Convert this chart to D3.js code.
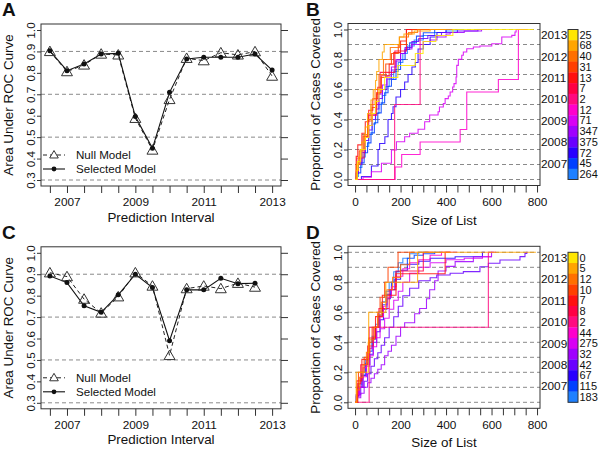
<!DOCTYPE html>
<html><head><meta charset="utf-8">
<script src="https://cdn.jsdelivr.net/npm/d3@7"></script>
<style>
body{margin:0;background:#fff}
svg{display:block}
text{font-family:"Liberation Sans",Arial,Helvetica,sans-serif;fill:#111}
</style>
</head><body><script>
// ---------------- DATA ----------------
const intervalsA = [2006.5,2007,2007.5,2008,2008.5,2009,2009.5,2010,2010.5,2011,2011.5,2012,2012.5,2013];
const nullModelA = [0.900,0.806,0.837,0.888,0.884,0.588,0.440,0.676,0.868,0.857,0.894,0.884,0.899,0.785];
const selectedModelA = [0.903,0.810,0.841,0.888,0.891,0.596,0.448,0.709,0.865,0.873,0.873,0.873,0.888,0.813];

const intervalsC = [2006.5,2007,2007.5,2008,2008.5,2009,2009.5,2010,2010.5,2011,2011.5,2012,2012.5];
const nullModelC = [0.907,0.889,0.784,0.719,0.795,0.907,0.845,0.521,0.833,0.845,0.833,0.858,0.840];
const selectedModelC = [0.892,0.861,0.753,0.722,0.804,0.900,0.838,0.590,0.827,0.827,0.881,0.856,0.858];

const intervalTicks = [2006.5,2007,2007.5,2008,2008.5,2009,2009.5,2010,2010.5,2011,2011.5,2012,2012.5,2013];
const intervalLabels = [2007,2009,2011,2013];
const aucTicks = [0.3,0.4,0.5,0.6,0.7,0.8,0.9,1.0];
const aucGrid = [0.3,0.5,0.7,0.9];
const legendLabels = ["Null Model","Selected Model"];

const sizeTicks = [0,50,100,150,200,250,300,350,400,450,500,550,600,650,700,750,800];
const sizeLabels = [0,200,400,600,800];
const propTicks = [0,0.2,0.4,0.6,0.8,1.0];
const propGrid = [0,0.1,0.2,0.3,0.4,0.5,0.6,0.7,0.8,0.9,1.0];

const colorYears = [2013,2012.5,2012,2011.5,2011,2010.5,2010,2009.5,2009,2008.5,2008,2007.5,2007,2006.5];
const yearLabels = [2013,2012,2011,2010,2009,2008,2007];
const yearColors = ["#ffe600","#ffa500","#ff7000","#ff4000","#ff1010","#ff0044","#ff0a80","#ff00cc","#d800f4","#a000ff","#6a00ff","#2800ff","#0040ff","#1e80ff"];
const countsB = [25,68,40,31,13,7,2,12,71,347,375,72,45,264];
const countsD = [0,5,12,10,7,8,2,44,275,32,42,67,115,183];

// coverage curves panel B: [list size, proportion covered] step corners
const b2013 = [[0,0],[10,0.12],[25,0.2],[45,0.28],[60,0.36],[75,0.44],[90,0.52],[105,0.6],[130,0.68],[188,0.76],[265,0.84],[299,0.92],[355,0.96],[430,1],[785,1]];
const b2012h = [[0,0],[5,0.06],[15,0.15],[30,0.25],[45,0.35],[55,0.44],[70,0.53],[80,0.6],[90,0.66],[95,0.72],[105,0.8],[120,0.85],[128,0.9],[195,0.95],[215,0.97],[260,0.99],[330,1],[440,1]];
const b2012 = [[0,0],[8,0.1],[22,0.2],[40,0.3],[55,0.4],[70,0.5],[88,0.6],[105,0.7],[125,0.8],[155,0.88],[195,0.95],[235,0.98],[275,1],[400,1]];
const b2011h = [[0,0],[5,0.1],[18,0.19],[35,0.29],[55,0.39],[75,0.48],[95,0.58],[115,0.68],[135,0.77],[160,0.84],[190,0.9],[226,0.97],[250,1],[380,1]];
const b2011 = [[0,0],[5,0.154],[12,0.231],[30,0.308],[45,0.385],[60,0.462],[78,0.538],[100,0.615],[115,0.692],[150,0.769],[170,0.846],[200,0.923],[226,1],[350,1]];
const b2010h = [[0,0],[8,0.143],[40,0.286],[60,0.429],[95,0.571],[110,0.714],[175,0.857],[226,1],[330,1]];
const b2010 = [[0,0],[174,0.5],[286,1],[400,1]];
const b2009h = [[0,0],[176,0.083],[205,0.167],[286,0.25],[462,0.333],[491,0.583],[630,0.667],[718,1],[760,1]];
const b2009 = [[0,0],[35,0.015],[72,0.052],[116,0.108],[160,0.197],[182,0.252],[218,0.285],[240,0.308],[277,0.335],[306,0.385],[328,0.43],[365,0.452],[371,0.483],[388,0.506],[396,0.539],[410,0.557],[418,0.583],[429,0.617],[435,0.639],[444,0.683],[447,0.761],[454,0.801],[469,0.828],[476,0.85],[491,0.872],[520,0.883],[549,0.89],[601,0.905],[645,0.95],[689,0.961],[703,0.983],[708,1],[740,1]];
const b2008h = [[0,0],[5,0.05],[15,0.12],[30,0.2],[45,0.28],[60,0.36],[75,0.43],[90,0.5],[105,0.57],[120,0.63],[140,0.69],[160,0.75],[180,0.8],[200,0.84],[220,0.87],[250,0.9],[300,0.92],[330,0.93],[360,0.95],[400,0.97],[418,0.98],[480,0.99],[556,1],[600,1]];
const b2008 = [[0,0],[5,0.04],[15,0.1],[30,0.18],[45,0.26],[60,0.33],[75,0.4],[90,0.47],[105,0.54],[120,0.6],[140,0.67],[160,0.73],[180,0.79],[200,0.84],[220,0.88],[250,0.92],[280,0.94],[320,0.96],[380,0.98],[450,0.99],[540,1],[580,1]];
const b2007h = [[0,0],[28,0.02],[72,0.09],[101,0.2],[108,0.24],[131,0.285],[145,0.4],[160,0.44],[167,0.485],[180,0.55],[200,0.6],[218,0.65],[233,0.7],[250,0.75],[265,0.78],[277,0.87],[300,0.9],[330,0.95],[360,0.98],[400,1],[450,1]];
const b2007 = [[0,0],[10,0.044],[25,0.111],[40,0.178],[55,0.244],[70,0.311],[85,0.378],[100,0.444],[115,0.511],[130,0.578],[145,0.622],[160,0.667],[180,0.733],[200,0.8],[220,0.867],[240,0.911],[270,0.956],[300,0.978],[350,1],[420,1]];
const b2006h = [[0,0],[5,0.02],[15,0.08],[30,0.15],[45,0.22],[60,0.3],[75,0.37],[90,0.44],[105,0.5],[120,0.56],[135,0.62],[150,0.67],[170,0.72],[190,0.78],[210,0.84],[230,0.89],[260,0.93],[300,0.96],[350,0.98],[400,0.99],[450,1],[480,1]];

// coverage curves panel D
const d2013 = [];
const d2012h = [[0,0],[5,0.2],[58,0.4],[60,0.6],[135,0.8],[275,1],[795,1]];
const d2012 = [[0,0],[8,0.083],[20,0.167],[35,0.25],[50,0.333],[65,0.417],[85,0.5],[100,0.583],[115,0.667],[140,0.75],[165,0.833],[200,0.917],[240,1],[420,1]];
const d2011h = [[0,0],[10,0.1],[15,0.2],[40,0.3],[60,0.4],[75,0.5],[100,0.6],[110,0.7],[130,0.8],[145,0.9],[189,1],[260,1]];
const d2011 = [[0,0],[8,0.143],[30,0.286],[60,0.429],[90,0.571],[120,0.714],[180,0.857],[396,1],[420,1]];
const d2010h = [[0,0],[12,0.125],[25,0.25],[55,0.375],[80,0.5],[105,0.625],[150,0.75],[180,0.875],[300,1],[340,1]];
const d2010 = [[0,0],[62,0.5],[586,1],[620,1]];
const d2009h = [[0,0],[5,0.05],[15,0.1],[25,0.16],[35,0.23],[50,0.3],[65,0.36],[80,0.43],[95,0.5],[110,0.57],[125,0.64],[140,0.7],[160,0.77],[180,0.84],[210,0.89],[240,0.93],[280,0.95],[330,0.98],[380,1],[450,1]];
const d2009 = [[0,0],[8,0.04],[20,0.1],[35,0.17],[50,0.24],[65,0.31],[80,0.37],[95,0.43],[110,0.49],[130,0.56],[150,0.62],[170,0.68],[190,0.74],[210,0.8],[240,0.86],[280,0.9],[330,0.93],[400,0.95],[480,0.96],[560,0.97],[601,0.97]];
const d2008h = [[0,0],[10,0.03],[25,0.06],[40,0.1],[55,0.13],[70,0.16],[85,0.19],[100,0.22],[115,0.25],[130,0.31],[145,0.34],[160,0.38],[180,0.44],[200,0.5],[218,0.53],[262,0.59],[284,0.625],[314,0.69],[328,0.75],[350,0.81],[365,0.875],[400,0.906],[440,0.938],[520,0.97],[600,1],[610,1]];
const d2008 = [[0,0],[10,0.05],[25,0.1],[40,0.14],[55,0.19],[70,0.24],[85,0.29],[100,0.33],[115,0.38],[130,0.43],[150,0.5],[170,0.57],[190,0.64],[210,0.71],[240,0.76],[280,0.81],[330,0.83],[359,0.849],[418,0.86],[476,0.871],[549,0.904],[586,0.927],[637,0.949],[725,0.971],[747,0.993],[755,1],[760,1]];
const d2007h = [[0,0],[8,0.05],[20,0.1],[35,0.18],[50,0.25],[65,0.32],[80,0.4],[95,0.47],[110,0.55],[125,0.62],[140,0.69],[155,0.75],[175,0.82],[200,0.88],[230,0.92],[280,0.94],[330,0.96],[440,0.97],[549,0.97],[560,1],[570,1]];
const d2007 = [[0,0],[5,0.04],[15,0.1],[30,0.18],[45,0.26],[60,0.34],[75,0.42],[90,0.5],[105,0.58],[120,0.65],[140,0.72],[160,0.8],[180,0.87],[200,0.92],[230,0.96],[260,0.98],[300,0.99],[350,1],[380,1]];
const d2006h = [[0,0],[5,0.05],[15,0.12],[30,0.2],[45,0.28],[60,0.36],[75,0.44],[90,0.52],[105,0.6],[120,0.67],[135,0.74],[150,0.8],[170,0.87],[190,0.93],[210,0.96],[240,0.99],[280,1],[320,1]];

// same order as colorYears
const curvesB = [b2013,b2012h,b2012,b2011h,b2011,b2010h,b2010,b2009h,b2009,b2008h,b2008,b2007h,b2007,b2006h];
const curvesD = [d2013,d2012h,d2012,d2011h,d2011,d2010h,d2010,d2009h,d2009,d2008h,d2008,d2007h,d2007,d2006h];

// ---------------- DRAWING ----------------
const W = 600, H = 450, rowOffset = 222.8;
const svg = d3.select("body").append("svg").attr("width", W).attr("height", H);
const axisColor = "#333", gridColor = "#8a8a8a";
const tickFont = 11.8, titleFont = 13.4;

function styleAxis(g){
  g.select(".domain").remove();
  g.selectAll(".tick line").attr("stroke", axisColor);
  g.selectAll(".tick text").attr("font-size", tickFont).attr("fill","#111")
   .attr("font-family",'"Liberation Sans",Arial,sans-serif');
  g.attr("font-size", null).attr("font-family", null);
}
function rotateLeftLabels(g, offset){
  g.selectAll(".tick text").attr("x", null).attr("dy", null)
   .attr("text-anchor","middle").attr("transform", `translate(${-offset},0) rotate(-90)`);
}

function panelLabel(txt, x, y){
  svg.append("text").attr("x",x).attr("y",y).attr("font-size",19).attr("font-weight","bold").text(txt);
}

function aucPanel(oy, intervals, nullVals, selVals, letter){
  const g = svg.append("g").attr("transform",`translate(0,${oy})`);
  const x = d3.scaleLinear().domain([2006.24, 2013.26]).range([41, 281]);
  const y = d3.scaleLinear().domain([0.272, 1.028]).range([186, 24]);
  g.append("g").selectAll("line").data(aucGrid).join("line")
    .attr("x1",x.range()[0]).attr("x2",x.range()[1])
    .attr("y1",d=>y(d)).attr("y2",d=>y(d))
    .attr("stroke",gridColor).attr("stroke-dasharray","4,3").attr("stroke-width",1);
  g.append("g").attr("transform",`translate(0,${y.range()[0]})`)
    .call(d3.axisBottom(x).tickValues(intervalTicks).tickSize(7).tickPadding(5)
      .tickFormat(d => intervalLabels.includes(d) ? d3.format("d")(d) : ""))
    .call(styleAxis);
  g.append("g").attr("transform",`translate(${x.range()[0]},0)`)
    .call(d3.axisLeft(y).tickValues(aucTicks).tickSize(4).tickFormat(d3.format(".1f")))
    .call(styleAxis).call(gg => rotateLeftLabels(gg, 6));
  g.append("g").attr("transform",`translate(${x.range()[1]},0)`)
    .call(d3.axisRight(y).tickValues(aucTicks).tickSize(7).tickFormat(""))
    .call(styleAxis);
  g.append("rect").attr("x",41).attr("y",24).attr("width",240).attr("height",162)
    .attr("fill","none").attr("stroke",axisColor).attr("stroke-width",1);
  const pts = (vals) => intervals.map((t,i)=>[t, vals[i]]);
  const line = d3.line().x(d=>x(d[0])).y(d=>y(d[1]));
  g.append("path").attr("d", line(pts(nullVals))).attr("fill","none")
    .attr("stroke","#222").attr("stroke-dasharray","4,3").attr("stroke-width",1);
  g.append("path").attr("d", line(pts(selVals))).attr("fill","none")
    .attr("stroke","#111").attr("stroke-width",1.1);
  const tri = d3.symbol().type(d3.symbolTriangle).size(52);
  g.append("g").selectAll("path").data(pts(nullVals)).join("path")
    .attr("d", tri).attr("transform", d=>`translate(${x(d[0])},${y(d[1])+1})`)
    .attr("fill","none").attr("stroke","#333").attr("stroke-width",1);
  g.append("g").selectAll("circle").data(pts(selVals)).join("circle")
    .attr("cx",d=>x(d[0])).attr("cy",d=>y(d[1])).attr("r",2.5).attr("fill","#111");
  const leg = g.append("g");
  const rows = [155, 169];
  leg.append("line").attr("x1",43).attr("x2",65).attr("y1",rows[0]).attr("y2",rows[0])
    .attr("stroke","#222").attr("stroke-dasharray","4,3");
  leg.append("path").attr("d", d3.symbol().type(d3.symbolTriangle).size(32)())
    .attr("transform",`translate(54,${rows[0]+0.5})`).attr("fill","#fff").attr("stroke","#333");
  leg.append("line").attr("x1",43).attr("x2",65).attr("y1",rows[1]).attr("y2",rows[1])
    .attr("stroke","#111").attr("stroke-width",1.1);
  leg.append("circle").attr("cx",54).attr("cy",rows[1]).attr("r",2.4).attr("fill","#111");
  leg.selectAll("text").data(legendLabels).join("text")
    .attr("x",76).attr("y",(d,i)=>rows[i]).attr("dy","0.36em").attr("font-size",11.6).text(d=>d);
  g.append("text").attr("x",(41+281)/2).attr("y",221.5).attr("text-anchor","middle")
    .attr("font-size",titleFont).text("Prediction Interval");
  g.append("text").attr("transform",`translate(12.5,${(24+186)/2}) rotate(-90)`).attr("text-anchor","middle")
    .attr("font-size",titleFont).text("Area Under ROC Curve");
  panelLabel(letter, 2, oy + 16);
}

function coveragePanel(oy, curves, counts, letter){
  const g = svg.append("g").attr("transform",`translate(0,${oy})`);
  const x = d3.scaleLinear().domain([-31, 813]).range([348, 540]);
  const y = d3.scaleLinear().domain([-0.04, 1.04]).range([185.5, 23.5]);
  g.append("g").selectAll("line").data(propGrid).join("line")
    .attr("x1",348).attr("x2",540).attr("y1",d=>y(d)).attr("y2",d=>y(d))
    .attr("stroke",gridColor).attr("stroke-dasharray","4,3");
  g.append("g").attr("transform",`translate(0,185.5)`)
    .call(d3.axisBottom(x).tickValues(sizeTicks).tickSize(7).tickPadding(5)
      .tickFormat(d => sizeLabels.includes(d) ? d : ""))
    .call(styleAxis);
  g.append("g").attr("transform",`translate(348,0)`)
    .call(d3.axisLeft(y).tickValues(propTicks).tickSize(4).tickFormat(d3.format(".1f")))
    .call(styleAxis).call(gg => rotateLeftLabels(gg, 6));
  const line = d3.line().x(d=>x(d[0])).y(d=>y(d[1])).curve(d3.curveStepAfter);
  const order = d3.range(curves.length).reverse();
  g.append("g").selectAll("path").data(order.filter(i => curves[i].length)).join("path")
    .attr("d", i => line(curves[i])).attr("fill","none")
    .attr("stroke", i => yearColors[i]).attr("stroke-width",1.1).attr("stroke-opacity",0.85);
  g.append("rect").attr("x",348).attr("y",23.5).attr("width",192).attr("height",162)
    .attr("fill","none").attr("stroke",axisColor);
  const band = d3.scaleBand().domain(colorYears).range([y(1), y(0)]);
  g.append("g").selectAll("rect").data(colorYears).join("rect")
    .attr("x",568).attr("width",10).attr("y",d=>band(d)).attr("height",band.bandwidth()+0.3)
    .attr("fill",(d,i)=>yearColors[i]);
  g.append("rect").attr("x",568).attr("width",10).attr("y",y(1)).attr("height",y(0)-y(1))
    .attr("fill","none").attr("stroke",axisColor);
  g.append("g").selectAll("text").data(yearLabels).join("text")
    .attr("x",541).attr("y",d=>band(d)+band.bandwidth()/2).attr("dy","0.36em")
    .attr("font-size",tickFont).text(d=>d);
  g.append("g").selectAll("text").data(counts).join("text")
    .attr("x",579.5).attr("y",(d,i)=>band(colorYears[i])+band.bandwidth()/2).attr("dy","0.35em")
    .attr("font-size",11).text(d=>d);
  g.append("text").attr("x",444).attr("y",224.5).attr("text-anchor","middle")
    .attr("font-size",titleFont).text("Size of List");
  g.append("text").attr("transform",`translate(319.5,${(23.5+185.5)/2}) rotate(-90)`).attr("text-anchor","middle")
    .attr("font-size",titleFont).text("Proportion of Cases Covered");
  panelLabel(letter, 306, oy + 16);
}

aucPanel(0, intervalsA, nullModelA, selectedModelA, "A");
coveragePanel(0, curvesB, countsB, "B");
aucPanel(rowOffset, intervalsC, nullModelC, selectedModelC, "C");
coveragePanel(rowOffset, curvesD, countsD, "D");
</script></body></html>
